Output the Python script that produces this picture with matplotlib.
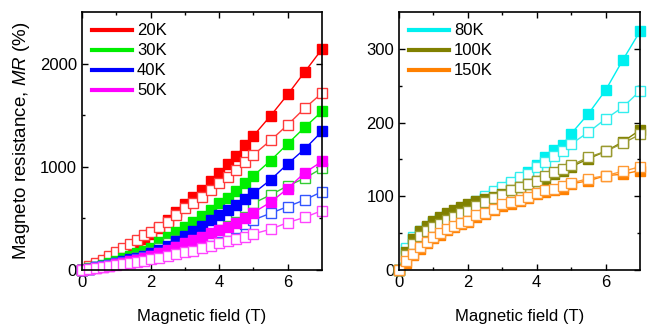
import matplotlib
matplotlib.use("Agg")
import matplotlib.pyplot as plt

plt.rcParams['font.family'] = ['Liberation Sans', 'DejaVu Sans']
plt.rcParams['mathtext.fontset'] = 'custom'
plt.rcParams['mathtext.rm'] = 'Liberation Sans'
plt.rcParams['mathtext.it'] = 'Liberation Sans:italic'
plt.rcParams['font.size'] = 12

# magnetic field points (T)
field = [0, 0.2, 0.4, 0.6, 0.8, 1.0, 1.2, 1.4, 1.6, 1.8, 2.0, 2.25, 2.5, 2.75, 3.0,
         3.25, 3.5, 3.75, 4.0, 4.25, 4.5, 4.75, 5.0, 5.5, 6.0, 6.5, 7.0]

# low temperature MR (%) : filled / open symbols
mr20_f = [0, 20, 45, 75, 105, 140, 175, 215, 255, 300, 345, 410, 480, 560, 635,
          705, 777, 858, 938, 1029, 1107, 1207, 1301, 1495, 1702, 1922, 2142]
mr20_o = [0, 35, 68, 100, 140, 178, 215, 255, 295, 335, 372, 420, 469, 534, 599,
          647, 712, 777, 841, 906, 971, 1045, 1117, 1256, 1408, 1570, 1715]
mr30_f = [0, 15, 32, 50, 70, 90, 112, 135, 160, 185, 215, 270, 320, 366, 421,
          469, 524, 583, 647, 702, 770, 841, 913, 1061, 1223, 1385, 1537]
mr30_o = [0, 12, 25, 38, 52, 68, 85, 105, 125, 150, 178, 210, 259, 291, 324,
          356, 388, 437, 485, 524, 566, 608, 647, 728, 816, 890, 987]
mr40_f = [0, 12, 25, 38, 52, 68, 85, 102, 120, 140, 160, 195, 235, 280, 330,
          380, 430, 482, 534, 583, 631, 686, 744, 874, 1029, 1175, 1343]
mr40_o = [0, 13, 26, 40, 52, 65, 78, 92, 106, 122, 140, 168, 188, 220, 243,
          275, 298, 330, 366, 382, 411, 447, 485, 550, 615, 680, 760]
mr50_f = [0, 8, 18, 30, 42, 55, 70, 85, 100, 118, 135, 160, 190, 225, 259,
          291, 317, 356, 388, 421, 460, 502, 557, 657, 790, 945, 1052]
mr50_o = [0, 10, 20, 30, 40, 48, 58, 68, 78, 90, 104, 120, 136, 155, 172,
          188, 210, 233, 259, 285, 301, 324, 350, 395, 460, 511, 576]

# high temperature MR (%)
mr80_f = [0, 28, 42, 51, 58, 64, 69, 73, 78, 82, 86, 92, 98, 104, 110,
          117, 124, 133, 142, 153, 163, 170, 185, 212, 244, 285, 324]
mr80_o = [0, 30, 45, 53, 59, 65, 69, 74, 78, 83, 87, 94, 101, 107, 112,
          119, 126, 130, 140, 146, 155, 162, 171, 187, 205, 221, 243]
mr100_f = [0, 24, 42, 53, 60, 66, 72, 77, 82, 86, 90, 93, 96, 99, 103,
           108, 112, 117, 121, 124, 130, 135, 140, 151, 161, 174, 190]
mr100_o = [0, 20, 35, 46, 53, 58, 63, 68, 72, 77, 80, 87, 92, 98, 102,
           108, 112, 117, 121, 128, 133, 137, 142, 153, 161, 172, 184]
mr150_f = [0, 10, 20, 29, 36, 43, 48, 54, 58, 62, 65, 72, 76, 81, 87,
           90, 94, 98, 103, 106, 108, 110, 117, 121, 128, 130, 135]
mr150_o = [0, 12, 22, 31, 38, 45, 50, 56, 60, 64, 67, 74, 78, 83, 89,
           92, 95, 99, 104, 108, 110, 114, 118, 124, 128, 134, 140]

left_sets = [("20K", mr20_f, mr20_o, '#ff0000', '#ff3a3a'),
             ("30K", mr30_f, mr30_o, '#00ee00', '#33cc33'),
             ("40K", mr40_f, mr40_o, '#0000ff', '#3355ff'),
             ("50K", mr50_f, mr50_o, '#ff00ff', '#ff44ff')]
right_sets = [("80K", mr80_f, mr80_o, '#00f0f0', '#33eeee'),
              ("100K", mr100_f, mr100_o, '#808000', '#9a9a30'),
              ("150K", mr150_f, mr150_o, '#ff8000', '#ff9933')]

fig = plt.figure(figsize=(6.47, 3.26), dpi=100)
ax1 = fig.add_axes([0.1267, 0.1718, 0.371, 0.791])
ax2 = fig.add_axes([0.6167, 0.1718, 0.3725, 0.791])


def draw(ax, sets):
    handles = []
    for name, yf, yo, cf, co in sets:
        ax.plot(field, yf, '-s', color=cf, mfc=cf, mec=cf, ms=7, lw=1, clip_on=False)
        ax.plot(field, yo, '-s', color=co, mfc='white', mec=co, ms=7, mew=1, lw=1,
                clip_on=False)
        h, = ax.plot([], [], color=cf, lw=3, label=name)
        handles.append(h)
    ax.legend(handles=handles, loc='upper left', frameon=False, handlelength=2.4,
              handletextpad=0.3, labelspacing=0.3, borderaxespad=0.2,
              bbox_to_anchor=(0.0, 0.995))
    ax.set_xlim(0, 7)
    ax.set_xticks([0, 2, 4, 6])
    ax.set_xticks([1, 3, 5], minor=True)
    ax.tick_params(which='both', direction='in', top=True, right=True, width=1)
    ax.tick_params(which='major', length=4)
    ax.tick_params(which='minor', length=2.5)
    ax.set_xlabel('Magnetic field (T)', labelpad=14)
    for s in ax.spines.values():
        s.set_linewidth(1.2)


draw(ax1, left_sets)
draw(ax2, right_sets)

ax1.set_ylim(0, 2500)
ax1.set_yticks([0, 1000, 2000])
ax1.set_yticks([500, 1500], minor=True)
ax1.set_ylabel('Magneto resistance, $\\mathit{MR}$ (%)', fontsize=13.5, labelpad=6)

ax2.set_ylim(0, 350)
ax2.set_yticks([0, 100, 200, 300])
ax2.set_yticks([50, 150, 250], minor=True)

fig.savefig('out.png', dpi=100)
